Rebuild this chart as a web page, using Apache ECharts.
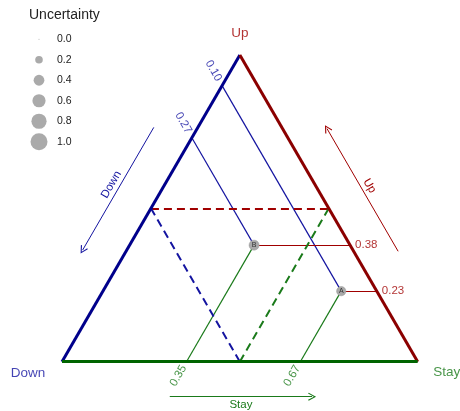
<!DOCTYPE html>
<html>
<head>
<meta charset="utf-8">
<script src="https://cdn.jsdelivr.net/npm/echarts@6/dist/echarts.min.js"></script>
<style>
  html, body { margin: 0; padding: 0; background: #fff; }
  #chart { width: 460px; height: 411px; }
</style>
</head>
<body>
<div id="chart"></div>
<script>
// Compositions of the two observations (shares of Down / Stay / Up)
const pointNames = ['A', 'B'];
const downShare = [0.10, 0.27];
const stayShare = [0.67, 0.35];
const upShare = [0.23, 0.38];
const uncertainty = [0.30, 0.35];

// Size key for the uncertainty circles
const legendLevels = [0.0, 0.2, 0.4, 0.6, 0.8, 1.0];

// Half-way reference share drawn for each component
const midShare = 0.5;

// Direction arrows outside the triangle: distance from the edge (as a share) and span covered
const arrowOffset = { Down: -0.124, Up: -0.125, Stay: -0.114 };
const arrowSpan = [0.36, 0.76];

const RED = '#8B0000', BLUE = '#00008B', GREEN = '#006400';
const RED_T = '#A00000', BLUE_T = '#1414A0', GREEN_T = '#1A7A1A';
const FONT = '"Liberation Sans", Arial, sans-serif';
const MAX_SIZE = 17;
const sizeOf = u => Math.max(1, Math.sqrt(u) * MAX_SIZE);

// ternary (stay, up) -> plane coordinates (x along Down->Stay, y = Up share)
const toXY = (stay, up) => [stay + up / 2, up];

const vDown = toXY(0, 0), vStay = toXY(1, 0), vUp = toXY(0, 1);

const edges = [
  { coords: [vDown, vUp], lineStyle: { color: BLUE } },
  { coords: [vUp, vStay], lineStyle: { color: RED } },
  { coords: [vDown, vStay], lineStyle: { color: GREEN } }
];

// guide lines from each observation to the three edges
const guides = [];
pointNames.forEach((n, i) => {
  const p = toXY(stayShare[i], upShare[i]);
  guides.push({ coords: [p, toXY(1 - upShare[i], upShare[i])], lineStyle: { color: RED_T } });
  guides.push({ coords: [p, toXY(0, 1 - downShare[i])], lineStyle: { color: BLUE_T } });
  guides.push({ coords: [p, toXY(stayShare[i], 0)], lineStyle: { color: GREEN_T } });
});

const midLines = [
  { coords: [toXY(0, midShare), toXY(1 - midShare, midShare)], lineStyle: { color: RED_T } },
  { coords: [toXY(0, 1 - midShare), toXY(1 - midShare, 0)], lineStyle: { color: BLUE_T } },
  { coords: [toXY(midShare, 0), toXY(midShare, 1 - midShare)], lineStyle: { color: GREEN_T } }
];

// arrows: Down runs toward the Down corner, Up toward the Up corner, Stay toward the Stay corner
const downAt = d => { const s = arrowOffset.Down; return toXY(s, 1 - d - s); };
const upAt = u => { const d = arrowOffset.Up; return toXY(1 - u - d, u); };
const stayAt = s => toXY(s, arrowOffset.Stay);
const arrows = [
  { name: 'Down', coords: [downAt(arrowSpan[0]), downAt(arrowSpan[1])],
    lineStyle: { color: BLUE_T }, label: { color: BLUE_T, position: 'middle' } },
  { name: 'Up', coords: [upAt(arrowSpan[0]), upAt(arrowSpan[1])],
    lineStyle: { color: RED_T }, label: { color: RED_T, position: 'middle' } },
  { name: 'Stay', coords: [stayAt(arrowSpan[0]), stayAt(arrowSpan[1])],
    lineStyle: { color: GREEN_T }, label: { color: GREEN_T, position: 'insideMiddleBottom' } }
];

const chevron = 'path://M10,0 L20,17.5 L17.6,19 L10,5.2 L2.4,19 L0,17.5 Z';

const chart = echarts.init(document.getElementById('chart'), null, { renderer: 'canvas' });

chart.setOption({
  animation: false,
  backgroundColor: '#fff',
  textStyle: { fontFamily: FONT },
  title: {
    text: 'Uncertainty', left: 29, top: 8, padding: 0,
    textStyle: { fontFamily: FONT, fontSize: 14, fontWeight: 'normal', color: '#222' }
  },
  grid: [
    { left: 62, right: 42.3, top: 55, bottom: 49.3 },
    { left: 29, top: 29, width: 20, height: 123 }
  ],
  xAxis: [
    { type: 'value', min: 0, max: 1, show: false },
    { type: 'value', min: -1, max: 1, show: false, gridIndex: 1 }
  ],
  yAxis: [
    { type: 'value', min: 0, max: 1, show: false },
    { type: 'category', gridIndex: 1, inverse: true, position: 'right',
      data: legendLevels.map(v => v.toFixed(1)),
      axisLine: { show: false }, axisTick: { show: false }, splitLine: { show: false },
      axisLabel: { margin: 8, fontSize: 10.5, color: '#222', fontFamily: FONT } }
  ],
  series: [
    { type: 'lines', coordinateSystem: 'cartesian2d', clip: false, z: 2,
      lineStyle: { width: 1.2, opacity: 1 }, data: guides },
    { type: 'lines', coordinateSystem: 'cartesian2d', clip: false, z: 3,
      lineStyle: { width: 2, type: [8, 5], opacity: 1 }, data: midLines },
    { type: 'lines', coordinateSystem: 'cartesian2d', clip: false, z: 4,
      lineStyle: { width: 3, opacity: 1 }, data: edges },
    { type: 'lines', coordinateSystem: 'cartesian2d', clip: false, z: 4,
      symbol: ['none', chevron], symbolSize: [8, 8],
      lineStyle: { width: 1, opacity: 1 },
      label: { show: true, formatter: p => p.name, fontSize: 11.5, fontFamily: FONT, distance: 2 },
      data: arrows },
    // corner names
    { type: 'scatter', clip: false, symbolSize: 0, z: 5, silent: true,
      label: { show: true, fontFamily: FONT, fontSize: 13.5, formatter: p => p.name },
      data: [
        { name: 'Up', value: vUp, label: { color: RED_T, position: 'top', distance: 15 } },
        { name: 'Down', value: vDown, label: { color: BLUE_T, position: 'inside', offset: [-34, 12] } },
        { name: 'Stay', value: vStay, label: { color: GREEN_T, position: 'inside', offset: [29, 11] } }
      ] },
    // Up share read on the right edge
    { type: 'scatter', clip: false, symbolSize: 0, z: 5, silent: true,
      label: { show: true, position: 'inside', align: 'left', verticalAlign: 'middle',
        offset: [5, 0], fontSize: 11.5, fontFamily: FONT, color: RED_T, formatter: p => p.value[2].toFixed(2) },
      data: upShare.map(u => [...toXY(1 - u, u), u]) },
    // Down share read on the left edge
    { type: 'scatter', clip: false, symbolSize: 0, z: 5, silent: true,
      label: { show: true, position: 'inside', align: 'right', verticalAlign: 'middle', rotate: -60,
        offset: [-6, 0], fontSize: 11.5, fontFamily: FONT, color: BLUE_T, formatter: p => p.value[2].toFixed(2) },
      data: downShare.map(d => [...toXY(0, 1 - d), d]) },
    // Stay share read on the bottom edge
    { type: 'scatter', clip: false, symbolSize: 0, z: 5, silent: true,
      label: { show: true, position: 'inside', align: 'right', verticalAlign: 'middle', rotate: 60,
        offset: [-5, 0], fontSize: 11.5, fontFamily: FONT, color: GREEN_T, formatter: p => p.value[2].toFixed(2) },
      data: stayShare.map(s => [...toXY(s, 0), s]) },
    // observations, sized by uncertainty
    { type: 'scatter', clip: false, z: 6, silent: true,
      symbolSize: v => sizeOf(v[2]),
      itemStyle: { color: '#A9A9A9', borderColor: '#9a9a9a', borderWidth: 0.5, opacity: 1 },
      label: { show: true, position: 'inside', fontSize: 7, fontFamily: FONT, color: '#333', formatter: p => p.name },
      data: pointNames.map((n, i) => ({ name: n, value: [...toXY(stayShare[i], upShare[i]), uncertainty[i]] })) },
    // size key
    { type: 'scatter', xAxisIndex: 1, yAxisIndex: 1, z: 6, silent: true,
      symbolSize: v => sizeOf(v[2]),
      itemStyle: { color: '#AAAAAA', opacity: 1 },
      data: legendLevels.map((u, i) => [0, i, u]) }
  ]
});
</script>
</body>
</html>
